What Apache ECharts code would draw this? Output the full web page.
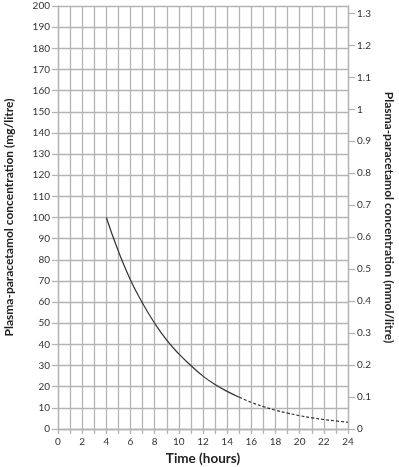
<!DOCTYPE html>
<html>
<head>
<meta charset="utf-8">
<script src="https://cdn.jsdelivr.net/npm/echarts@6/dist/echarts.min.js"></script>
<style>
  html, body { margin: 0; padding: 0; background: #fff; }
  #chart { width: 399px; height: 467px; }
</style>
</head>
<body>
<div id="chart"></div>
<script>
// values (hours, mg/litre)
var solidHours = [4, 5, 6, 7, 8, 9, 10, 11, 12, 13, 14, 15];
var solidConc  = [100, 84, 70.5, 59.5, 50, 42, 35.5, 30, 25, 21, 17.8, 15];
var dashHours  = [15, 16, 17, 18, 19, 20, 21, 22, 23, 24];
var dashConc   = [15, 12.6, 10.6, 8.9, 7.5, 6.3, 5.3, 4.5, 3.8, 3.2];
var mmolTicks  = [0, 0.1, 0.2, 0.3, 0.4, 0.5, 0.6, 0.7, 0.8, 0.9, 1, 1.1, 1.2, 1.3];
var mgPerMmol  = 151.16;

var chart = echarts.init(document.getElementById('chart'));

function pairs(xs, ys){
    var out = [];
    for (var i = 0; i < xs.length; i++) out.push([xs[i], ys[i]]);
    return out;
}

var gridColor = '#b4b4b4';
var font = 'Lato';
var titleStyle = { fontFamily: font, fontWeight: 'bold', fontSize: 12, color: '#222' };

var option = {
    animation: false,
    grid: { left: 58, right: 51, top: 6, bottom: 38, outerBoundsMode: 'none', containLabel: false },
    xAxis: {
        type: 'value',
        min: 0, max: 24, interval: 1,
        name: 'Time (hours)',
        nameLocation: 'middle',
        nameGap: 22,
        nameTextStyle: { fontFamily: font, fontWeight: 'bold', fontSize: 13.5, color: '#222' },
        axisLine: { show: true, lineStyle: { color: gridColor, width: 1.3 } },
        axisTick: { show: true, length: 5, lineStyle: { color: gridColor, width: 1.3 } },
        axisLabel: {
            margin: 8, fontFamily: font, fontSize: 10, color: '#333',
            formatter: function(v){ return v % 2 ? '' : String(v); }
        },
        splitLine: { show: true, lineStyle: { color: gridColor, width: 1.3 } }
    },
    yAxis: [
        {
            type: 'value',
            min: 0, max: 200, interval: 10,
            name: 'Plasma-paracetamol concentration (mg/litre)',
            nameLocation: 'middle',
            nameGap: 43,
            nameRotate: 90,
            nameTextStyle: titleStyle,
            axisLine: { show: true, lineStyle: { color: gridColor, width: 1.3 } },
            axisTick: { show: true, length: 6, lineStyle: { color: gridColor, width: 1.3 } },
            axisLabel: { margin: 8, fontFamily: font, fontSize: 10, color: '#333' },
            splitLine: { show: true, lineStyle: { color: gridColor, width: 1.3 } }
        },
        {
            type: 'value',
            position: 'right',
            min: 0, max: 200 / mgPerMmol,
            name: 'Plasma-paracetamol concentration (mmol/litre)',
            nameLocation: 'middle',
            nameGap: 35,
            nameRotate: -90,
            nameTextStyle: titleStyle,
            axisLine: { show: true, lineStyle: { color: gridColor, width: 1.3 } },
            axisTick: { show: true, length: 7, customValues: mmolTicks, lineStyle: { color: gridColor, width: 1.3 } },
            axisLabel: {
                margin: 9, fontFamily: font, fontSize: 10, color: '#333',
                customValues: mmolTicks,
                formatter: function(v){ return String(Math.round(v * 10) / 10); }
            },
            splitLine: { show: false }
        }
    ],
    series: [
        {
            type: 'line',
            data: pairs(solidHours, solidConc),
            smooth: true,
            symbol: 'none',
            lineStyle: { color: '#333', width: 1.2 }
        },
        {
            type: 'line',
            data: pairs(dashHours, dashConc),
            smooth: true,
            symbol: 'none',
            lineStyle: { color: '#333', width: 1.2, type: [3, 2] }
        }
    ]
};

chart.setOption(option);
</script>
</body>
</html>
